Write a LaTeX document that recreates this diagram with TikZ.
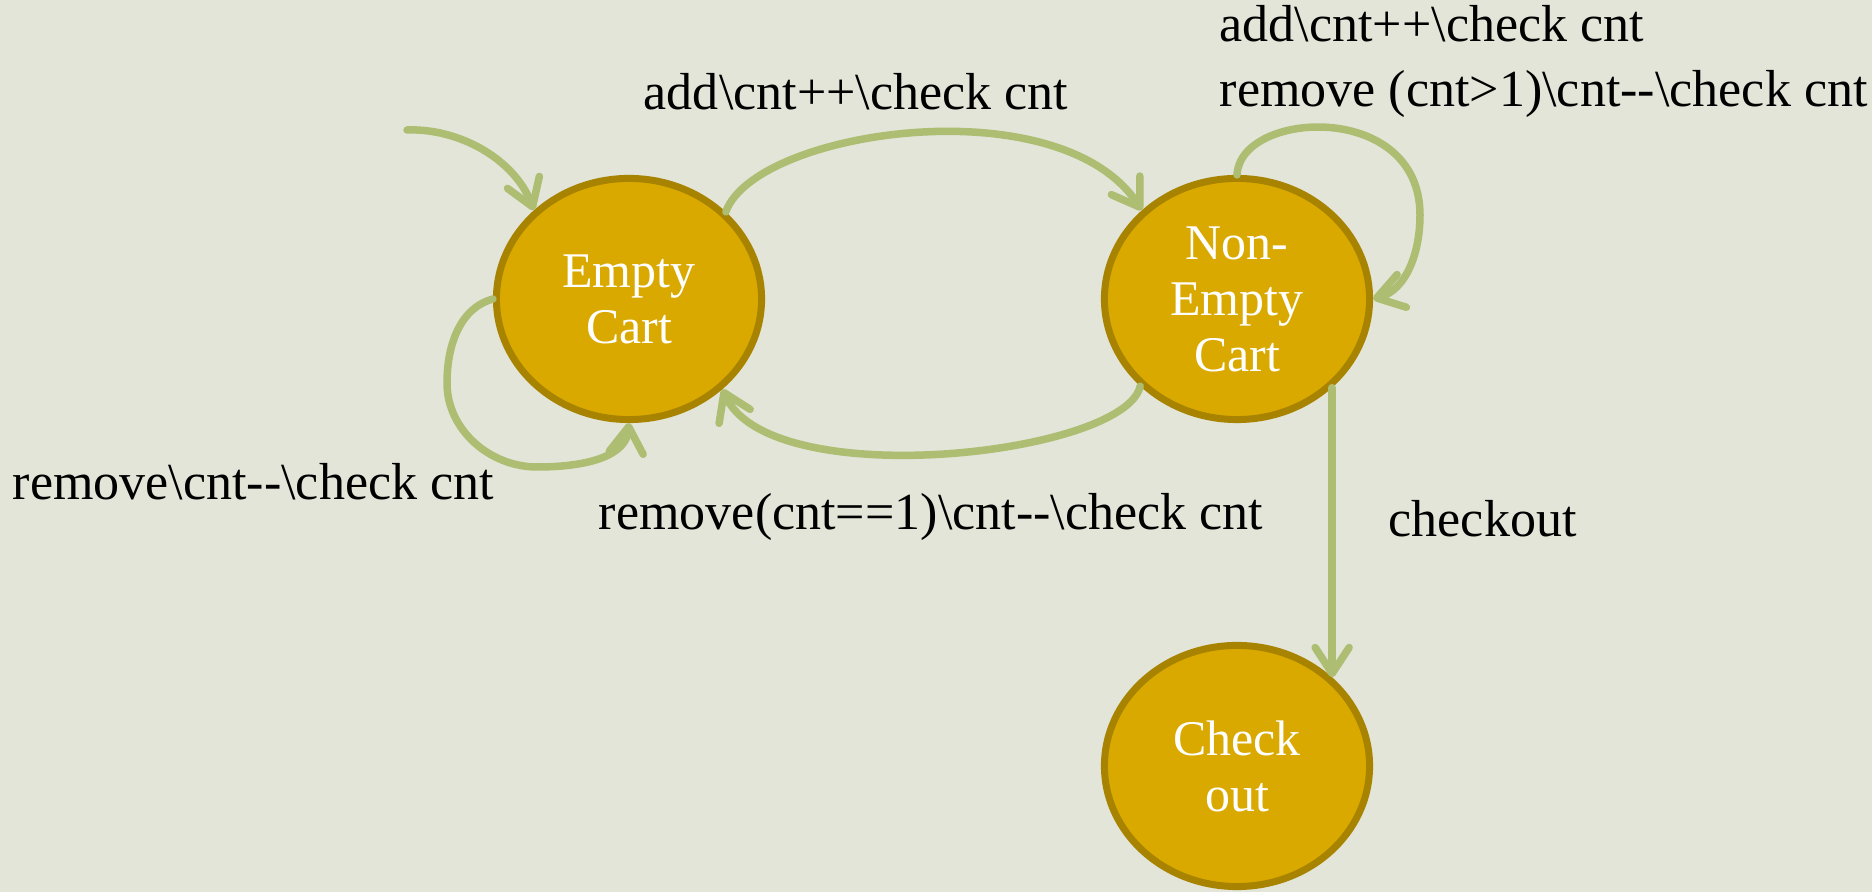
\documentclass[tikz,border=0pt]{standalone}
\usepackage{fontspec}
\setmainfont{Liberation Serif}
\usetikzlibrary{shapes.geometric,arrows.meta}
\definecolor{bgpaper}{RGB}{226,229,216}
\definecolor{stategold}{RGB}{217,169,0}
\definecolor{stateedge}{RGB}{168,131,0}
\definecolor{edgegreen}{RGB}{173,189,114}
% two separate hyphens, kept apart from the en-dash ligature
\newcommand{\twohyph}{-\kern0pt-}
\newcommand{\bs}{\textbackslash}
\begin{document}
\begin{tikzpicture}[x=0.01cm,y=-0.01cm,
  state/.style={ellipse, draw=stateedge, fill=stategold, line width=0.07cm,
    minimum width=2.65cm, minimum height=2.41cm, inner sep=0pt,
    align=center, text=white, font=\fontsize{14.2}{15.9}\selectfont},
  trans/.style={draw=edgegreen, line width=0.075cm, line cap=round,
    -{Straight Barb[length=0.26cm,width=0.34cm,round]}},
  lbl/.style={font=\fontsize{14.8}{17}\selectfont, inner sep=0pt, text=black}]

% paper background
\fill[bgpaper] (0,0) rectangle (1872,892);
\useasboundingbox (0,0) rectangle (1872,892);

% states
\node[state] (E) at (629,299) {Empty\\Cart};
\node[state] (N) at (1237,299) {Non-\\Empty\\Cart};
\node[state] (C) at (1237,766) {Check\\out};

% start marker
\coordinate (init) at (407,130);

% transitions
\draw[trans] (init) .. controls (460,128) and (515,160) .. (E.137);
\draw[trans] (E.42) .. controls (755,130) and (1060,85) .. (N.137);
\draw[trans] (N.222) .. controls (1125,455) and (770,495) .. (E.316);
\draw[trans] (E.180) .. controls (460,308) and (447,345) .. (447,383)
  .. controls (447,430) and (490,467) .. (537,467)
  .. controls (590,467) and (626,455) .. (E.270);
\draw[trans] (N.90) .. controls (1240,110) and (1420,100) .. (1420,215)
  .. controls (1420,255) and (1405,290) .. (N.0);
\draw[trans] (N.317) -- (C.43);

% transition labels
\node[lbl, anchor=base] (lAdd) at (856,110) {add\bs cnt++\bs check cnt};
\node[lbl, anchor=base west] (lLoopA) at (1219,42) {add\bs cnt++\bs check cnt};
\node[lbl, anchor=base west] (lLoopB) at (1219,107) {remove (cnt>1)\bs cnt\twohyph\bs check cnt};
\node[lbl, anchor=base west] (lRem) at (12,500) {remove\bs cnt\twohyph\bs check cnt};
\node[lbl, anchor=base] (lRemOne) at (931,530) {remove(cnt==1)\bs cnt\twohyph\bs check cnt};
\node[lbl, anchor=base west] (lOut) at (1388,537) {checkout};
\end{tikzpicture}
\end{document}
